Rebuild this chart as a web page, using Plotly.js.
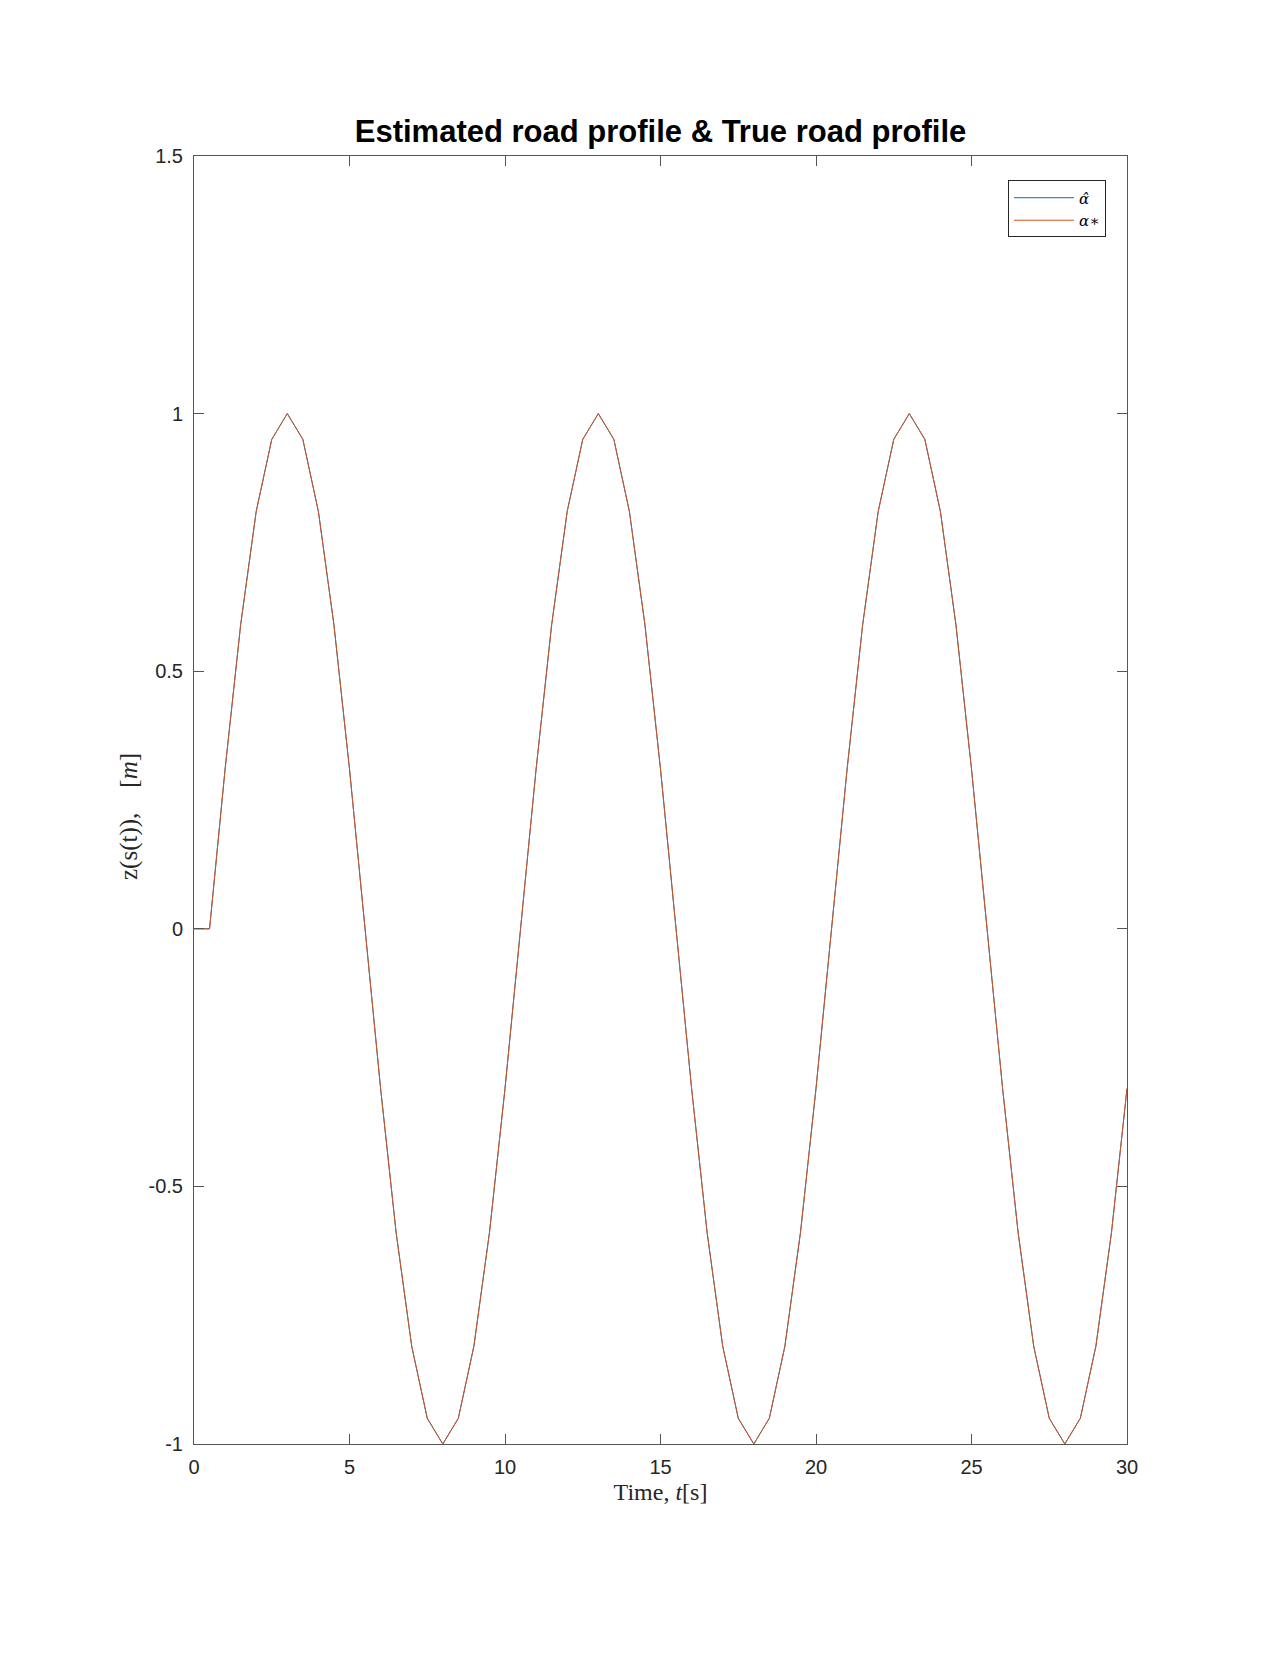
<!DOCTYPE html>
<html>
<head>
<meta charset="utf-8">
<script src="https://cdn.plot.ly/plotly-3.0.1.min.js"></script>
<style>
html,body{margin:0;padding:0;background:#fff;}
#chart{width:1280px;height:1656px;}
</style>
</head>
<body>
<div id="chart"></div>
<script>
// Time samples [s]
const time = [0,0.5,1,1.5,2,2.5,3,3.5,4,4.5,5,5.5,6,6.5,7,7.5,8,8.5,9,9.5,10,
  10.5,11,11.5,12,12.5,13,13.5,14,14.5,15,15.5,16,16.5,17,17.5,18,18.5,19,19.5,20,
  20.5,21,21.5,22,22.5,23,23.5,24,24.5,25,25.5,26,26.5,27,27.5,28,28.5,29,29.5,30];

// Estimated road profile (alpha hat)
const alphaHat = [0,0,0.31,0.59,0.81,0.95,1,0.95,0.81,0.59,0.31,0,-0.31,-0.59,-0.81,-0.95,-1,-0.95,-0.81,-0.59,-0.31,
  0,0.31,0.59,0.81,0.95,1,0.95,0.81,0.59,0.31,0,-0.31,-0.59,-0.81,-0.95,-1,-0.95,-0.81,-0.59,-0.31,
  0,0.31,0.59,0.81,0.95,1,0.95,0.81,0.59,0.31,0,-0.31,-0.59,-0.81,-0.95,-1,-0.95,-0.81,-0.59,-0.31];

// True road profile (alpha*)
const alphaStar = [0,0,0.31,0.59,0.81,0.95,1,0.95,0.81,0.59,0.31,0,-0.31,-0.59,-0.81,-0.95,-1,-0.95,-0.81,-0.59,-0.31,
  0,0.31,0.59,0.81,0.95,1,0.95,0.81,0.59,0.31,0,-0.31,-0.59,-0.81,-0.95,-1,-0.95,-0.81,-0.59,-0.31,
  0,0.31,0.59,0.81,0.95,1,0.95,0.81,0.59,0.31,0,-0.31,-0.59,-0.81,-0.95,-1,-0.95,-0.81,-0.59,-0.31];

const xTicks = [0,5,10,15,20,25,30];
const yTicks = [-1,-0.5,0,0.5,1,1.5];
const yTickText = ['-1','-0.5','0','0.5','1','1.5'];

const traces = [
  {x: time, y: alphaHat, type: 'scatter', mode: 'lines', name: '<i>α̂</i>',
   line: {color: '#0072BD', width: 1}},
  {x: time, y: alphaStar, type: 'scatter', mode: 'lines', name: '<i>α</i>∗',
   line: {color: '#D95319', width: 1}}
];

const axisCommon = {
  showgrid: false, zeroline: false, showline: true, mirror: 'ticks',
  linecolor: '#555555', linewidth: 1,
  ticks: 'inside', ticklen: 10, tickwidth: 1, tickcolor: '#555555',
  tickfont: {family: 'Liberation Sans, Arial, sans-serif', size: 20, color: '#262626'}
};

const layout = {
  width: 1280, height: 1656,
  paper_bgcolor: '#ffffff', plot_bgcolor: '#ffffff',
  margin: {l: 194, r: 153, t: 156, b: 212},
  showlegend: true,
  title: {
    text: '<b>Estimated road profile &amp; True road profile</b>',
    font: {family: 'Liberation Sans, Arial, sans-serif', size: 31, color: '#000000'},
    x: 0.5, xref: 'paper', xanchor: 'center',
    y: 1 - 131/1656, yref: 'container', yanchor: 'middle'
  },
  xaxis: Object.assign({}, axisCommon, {
    range: [0, 30], tickvals: xTicks, ticktext: xTicks.map(String),
    ticklabelstandoff: 5,
    title: {text: 'Time, <i>t</i>[s]', standoff: 6,
      font: {family: 'Liberation Serif, Times New Roman, serif', size: 24, color: '#262626'}}
  }),
  yaxis: Object.assign({}, axisCommon, {
    range: [-1, 1.5], tickvals: yTicks, ticktext: yTickText,
    ticklabelstandoff: 6
  }),
  annotations: [{
    text: 'z(s(t)),&nbsp;&nbsp;&nbsp;&nbsp;[<i>m</i>]',
    xref: 'paper', yref: 'paper',
    x: (129 - 194) / 933, y: (1444 - 817) / 1288,
    xanchor: 'center', yanchor: 'middle', textangle: -90, showarrow: false,
    font: {family: 'Liberation Serif, Times New Roman, serif', size: 25, color: '#262626'}
  }],
  legend: {
    x: 0.9775, xanchor: 'right', y: 0.981, yanchor: 'top',
    bgcolor: '#ffffff', bordercolor: '#262626', borderwidth: 1,
    font: {family: 'DejaVu Serif, serif', size: 15, color: '#000000'},
    itemwidth: 60,
    tracegroupgap: 0
  }
};

Plotly.newPlot('chart', traces, layout, {displayModeBar: false, staticPlot: true});
</script>
</body>
</html>
